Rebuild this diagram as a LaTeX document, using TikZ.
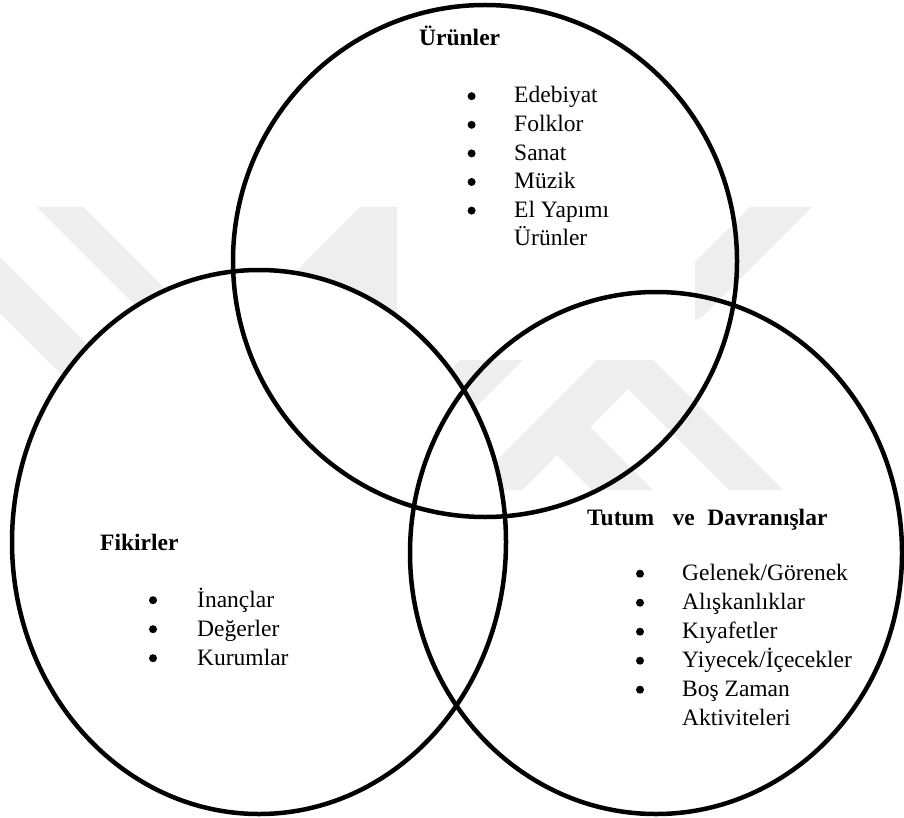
\documentclass[tikz,border=0pt]{standalone}
\usepackage{fontspec}
\setmainfont{Liberation Serif}
\definecolor{wm}{RGB}{238,238,238}
\begin{document}
\begin{tikzpicture}[x=1pt,y=-1pt,
  txt/.style={anchor=base west, inner sep=0pt, font=\fontsize{23.5}{29}\selectfont},
  hd/.style={anchor=base west, inner sep=0pt, font=\fontsize{23.5}{29}\selectfont\bfseries},
  bul/.style={circle, fill=black, draw=none, inner sep=0pt, minimum size=8pt, yshift=6.8pt},
  ring/.style={line width=4.5pt},
  mark wm/.style={fill=wm, draw=none}]
\useasboundingbox (0,0) rectangle (904,818);
\fill[white] (0,0) rectangle (904,818);
% watermark
\path[mark wm] (0,257) -- (160,417) -- (160,473) -- (0,313) -- cycle;
\path[mark wm] (37,207) -- (83,207) -- (200,324) -- (154,324) -- cycle;
\path[mark wm] (360,207) -- (397,207) -- (397,330) -- (237,330) -- cycle;
\path[mark wm] (750,207) -- (812,207) -- (702,317) -- (695,320) -- (695,262) -- cycle;
\path[mark wm] (460,360) -- (523,360) -- (413,470) -- (350,470) -- cycle;
\path[mark wm] (597,360) -- (653,360) -- (783,490) -- (729,490) -- (628,389) -- (590,427)
  -- (653,490) -- (592,490) -- (557,455) -- (522,490) -- (467,490) -- cycle;
% circles
\fill[white] (259,542) ellipse [x radius=247, y radius=272];
\draw[ring] (485,261) ellipse [x radius=252, y radius=256];
\draw[ring] (259,542) ellipse [x radius=247, y radius=272];
\draw[ring] (656,553) ellipse [x radius=246, y radius=261];
% Urunler
\node[hd] (h1) at (419,46) {Ürünler};
\node[bul] (u1b) at (471.6,103) {};
\node[txt] (u1) at (514,103) {Edebiyat};
\node[bul] (u2b) at (471.6,131.6) {};
\node[txt] (u2) at (514,131.6) {Folklor};
\node[bul] (u3b) at (471.6,160.2) {};
\node[txt] (u3) at (514,160.2) {Sanat};
\node[bul] (u4b) at (471.6,188.8) {};
\node[txt] (u4) at (514,188.8) {Müzik};
\node[bul] (u5b) at (471.6,217.4) {};
\node[txt] (u5) at (514,217.4) {El Yapımı};
\node[txt] (u6) at (514,246) {Ürünler};
% Fikirler
\node[hd] (h2) at (100,550) {Fikirler};
\node[bul] (f1b) at (153,607) {};
\node[txt] (f1) at (197,607) {İnançlar};
\node[bul] (f2b) at (153,636) {};
\node[txt] (f2) at (197,636) {Değerler};
\node[bul] (f3b) at (153,665) {};
\node[txt] (f3) at (197,665) {Kurumlar};
% Tutum ve Davranislar
\node[hd] (h3) at (587,525) {Tutum\hspace{18.5pt}ve\hspace{12.4pt}Davranışlar};
\node[bul] (t1b) at (640,580.5) {};
\node[txt] (t1) at (682,580.5) {Gelenek/Görenek};
\node[bul] (t2b) at (640,609.5) {};
\node[txt] (t2) at (682,609.5) {Alışkanlıklar};
\node[bul] (t3b) at (640,638.5) {};
\node[txt] (t3) at (682,638.5) {Kıyafetler};
\node[bul] (t4b) at (640,667.5) {};
\node[txt] (t4) at (682,667.5) {Yiyecek/İçecekler};
\node[bul] (t5b) at (640,696.5) {};
\node[txt] (t5) at (682,696.5) {Boş Zaman};
\node[txt] (t6) at (682,725.5) {Aktiviteleri};
\end{tikzpicture}
\end{document}
